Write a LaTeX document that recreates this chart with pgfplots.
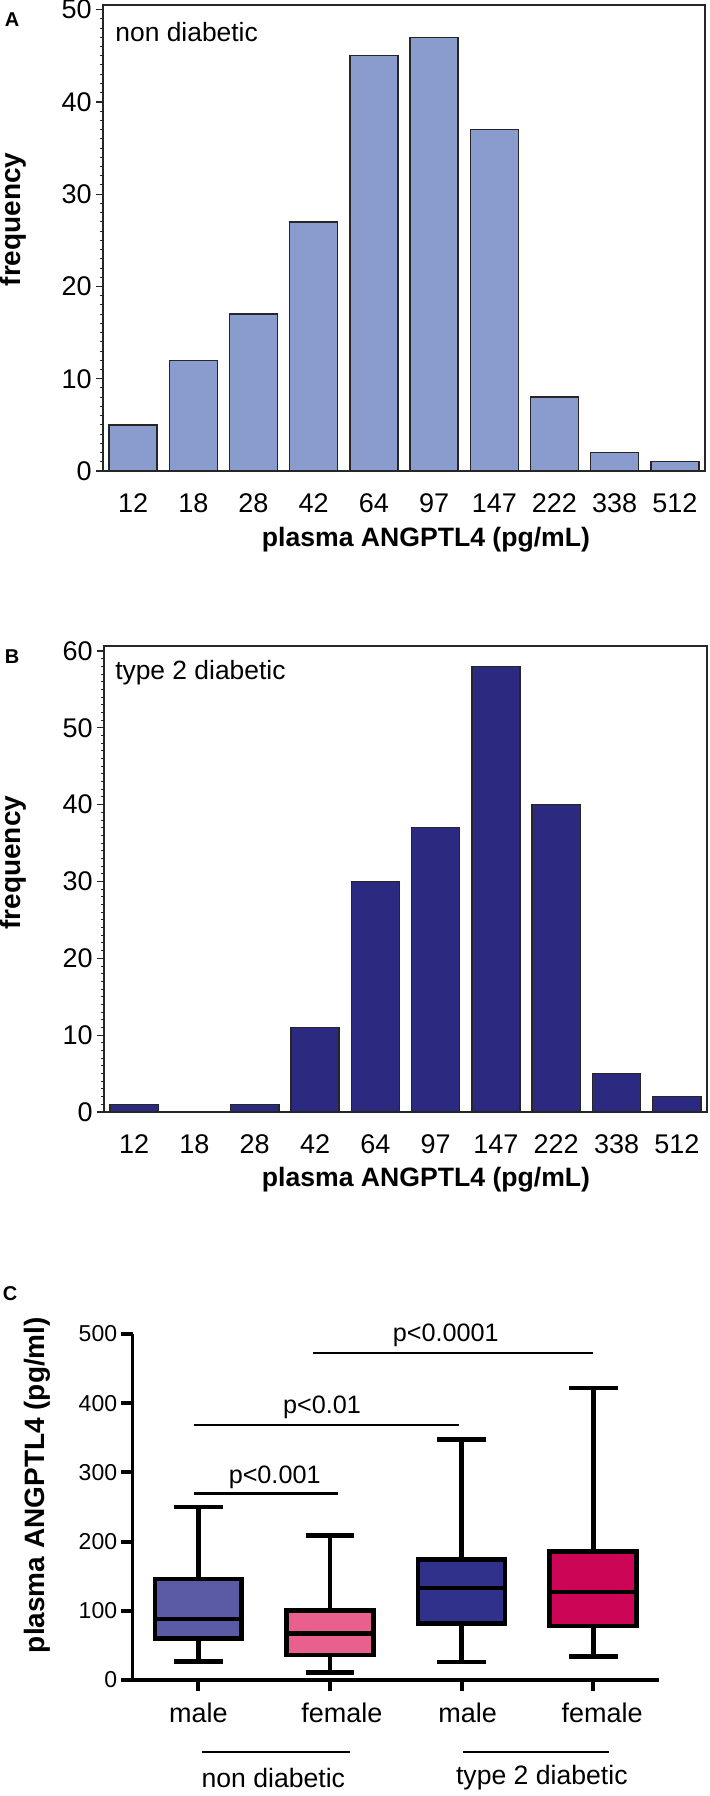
\documentclass[border=0pt]{standalone}
\usepackage{fontspec}
\setmainfont{Liberation Sans}
\usepackage{pgfplots}
\pgfplotsset{compat=1.18}
\definecolor{barA}{HTML}{8A9BCE}
\definecolor{barB}{HTML}{2B2A80}
\definecolor{cA}{HTML}{5B5BA5}
\definecolor{cB}{HTML}{E9608F}
\definecolor{cC}{HTML}{2F318A}
\definecolor{cD}{HTML}{CC0557}
\newcommand\fs[1]{\fontsize{#1}{#1}\selectfont}

\pgfplotsset{
  histo/.style={
    scale only axis, xmin=-0.5, xmax=9.5, ymin=0,
    xtick={0,...,9}, xticklabels={12,18,28,42,64,97,147,222,338,512},
    minor y tick num=9, ytick pos=left, xtick pos=bottom,
    tick align=outside, major tick length=3.5pt, minor tick length=1.6pt,
    x tick style={draw=none},
    y tick style={black!85, line width=0.6pt},
    minor y tick style={line width=0.5pt},
    axis line style={black!85, line width=0.7pt},
    tick label style={font=\fs{13.5}},
    /pgf/number format/assume math mode=true,
    xticklabel style={anchor=center, yshift=-12.5pt},
    yticklabel style={inner sep=2pt},
    xlabel style={font=\bfseries\fs{13.3}, anchor=center},
    ylabel style={font=\bfseries\fs{14}, anchor=center},
  },
  histbar/.style={ybar, bar width=0.8, draw=black!85, line width=0.7pt},
  bx/.style={draw=black, line width=2.35pt, line join=miter, mark=none},
}

\begin{document}
\begin{tikzpicture}
\useasboundingbox (0,0) rectangle (354.5pt,-898pt);

% ---------------- Panel A ----------------
\node[font=\bfseries\fs{10}, anchor=center] at (6pt,-10pt) {A};
\begin{axis}[histo,
  at={(51.5pt,-235.5pt)}, anchor=south west,
  width=301pt, height=233pt,
  ymax=50.5, ytick={0,10,...,50},
  xlabel={plasma ANGPTL4 (pg/mL)},
  xlabel style={at={(axis description cs:0.5365,-0.148)}},
  ylabel={frequency},
  ylabel style={at={(axis description cs:-0.1495,0.54)}},
]
\addplot[histbar, fill=barA] coordinates {
  (0,5) (1,12) (2,17) (3,27) (4,45) (5,47) (6,37) (7,8) (8,2) (9,1)};
\draw[black!85, line width=1.2pt] (rel axis cs:0,0) -- (rel axis cs:1,0);
\node[anchor=west, inner sep=0pt, font=\fs{13.2}] at (rel axis cs:0.02,0.942) {non diabetic};
\end{axis}

% ---------------- Panel B ----------------
\node[font=\bfseries\fs{10}, anchor=center] at (6pt,-328.5pt) {B};
\begin{axis}[histo,
  at={(52pt,-556pt)}, anchor=south west,
  width=301.5pt, height=233pt,
  ymax=60.65, ytick={0,10,...,60},
  xlabel={plasma ANGPTL4 (pg/mL)},
  xlabel style={at={(axis description cs:0.534,-0.146)}},
  ylabel={frequency},
  ylabel style={at={(axis description cs:-0.151,0.535)}},
]
\addplot[histbar, fill=barB] coordinates {
  (0,1) (1,0) (2,1) (3,11) (4,30) (5,37) (6,58) (7,40) (8,5) (9,2)};
\draw[black!85, line width=1.2pt] (rel axis cs:0,0) -- (rel axis cs:1,0);
\node[anchor=west, inner sep=0pt, font=\fs{13.2}] at (rel axis cs:0.018,0.942) {type 2 diabetic};
\end{axis}

% ---------------- Panel C ----------------
\node[font=\bfseries\fs{10}, anchor=center] at (5pt,-647pt) {C};
\begin{axis}[
  at={(66.25pt,-840pt)}, anchor=south west,
  scale only axis, width=263.25pt, height=173pt,
  xmin=-0.5, xmax=3.5, ymin=0, ymax=500,
  axis lines=left, axis line style={-, line width=1.65pt},
  clip=false,
  xtick={0,1,2,3},
  xticklabels={male,\hspace*{12pt}female,\hspace*{6pt}male,\hspace*{9pt}female},
  ytick={0,100,...,500},
  tick align=outside,
  major tick length=5.5pt,
  tick style={black, line width=2pt},
  /pgf/number format/assume math mode=true,
  yticklabel style={font=\fs{11.5}, inner sep=2pt},
  xticklabel style={font=\fs{13.5}, anchor=north, inner sep=0pt, yshift=-6pt},
  ylabel={plasma ANGPTL4 (pg/ml)},
  ylabel style={font=\bfseries\fs{14}, anchor=center, at={(axis description cs:-0.1814,0.5636)}},
]
% box 1: non diabetic male  (whiskers 27-250, Q1 60, median 88, Q3 146)
\addplot[bx] coordinates {(0,27) (0,250)};
\addplot[bx] coordinates {(-0.185,27) (0.185,27)};
\addplot[bx] coordinates {(-0.185,250) (0.185,250)};
\addplot[bx, fill=cA] coordinates {(-0.33,60) (0.33,60) (0.33,146) (-0.33,146) (-0.33,60) (0.33,60)};
\addplot[bx] coordinates {(-0.33,88) (0.33,88)};
% box 2: non diabetic female (11-209, 36, 67, 100)
\addplot[bx] coordinates {(1,11) (1,209)};
\addplot[bx] coordinates {(0.815,11) (1.185,11)};
\addplot[bx] coordinates {(0.815,209) (1.185,209)};
\addplot[bx, fill=cB] coordinates {(0.67,36) (1.33,36) (1.33,100) (0.67,100) (0.67,36) (1.33,36)};
\addplot[bx] coordinates {(0.67,67) (1.33,67)};
% box 3: type 2 male (26-348, 82, 133, 174)
\addplot[bx] coordinates {(2,26) (2,348)};
\addplot[bx] coordinates {(1.815,26) (2.185,26)};
\addplot[bx] coordinates {(1.815,348) (2.185,348)};
\addplot[bx, fill=cC] coordinates {(1.67,82) (2.33,82) (2.33,174) (1.67,174) (1.67,82) (2.33,82)};
\addplot[bx] coordinates {(1.67,133) (2.33,133)};
% box 4: type 2 female (34-422, 78, 127, 186)
\addplot[bx] coordinates {(3,34) (3,422)};
\addplot[bx] coordinates {(2.815,34) (3.185,34)};
\addplot[bx] coordinates {(2.815,422) (3.185,422)};
\addplot[bx, fill=cD] coordinates {(2.67,78) (3.33,78) (3.33,186) (2.67,186) (2.67,78) (3.33,78)};
\addplot[bx] coordinates {(2.67,127) (3.33,127)};
% significance bars
\addplot[black, line width=1.4pt, mark=none] coordinates {(-0.03,270) (1.06,270)};
\addplot[black, line width=1.4pt, mark=none] coordinates {(-0.03,368.5) (1.98,368.5)};
\addplot[black, line width=1.4pt, mark=none] coordinates {(0.87,472.5) (3.0,472.5)};
\node[font=\fs{12.6}, anchor=center] at (axis cs:0.58,293) {p<0.001};
\node[font=\fs{12.6}, anchor=center] at (axis cs:0.94,394.5) {p<0.01};
\node[font=\fs{12.6}, anchor=center] at (axis cs:1.88,498.5) {p<0.0001};
% group annotations
\draw[black, line width=0.75pt] (axis cs:0.03,-104) -- (axis cs:1.15,-104);
\draw[black, line width=0.75pt] (axis cs:2.01,-104) -- (axis cs:3.12,-104);
\node[font=\fs{13.3}, anchor=center] at (axis cs:0.57,-141.6) {non diabetic};
\node[font=\fs{13.3}, anchor=center] at (axis cs:2.61,-141.6) {type 2 diabetic};
\end{axis}
\end{tikzpicture}
\end{document}
